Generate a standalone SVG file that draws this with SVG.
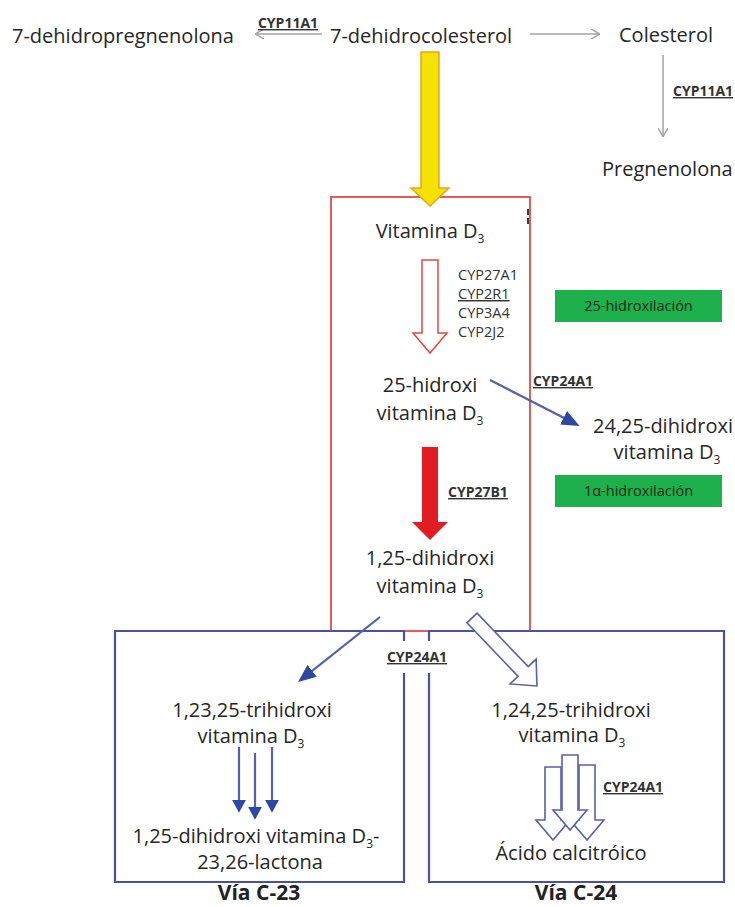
<svg xmlns="http://www.w3.org/2000/svg" width="735" height="907" viewBox="0 0 735 907">
<style>
  text { font-family: "Open Sans", "Liberation Sans", sans-serif; fill: #262626; }
  .lbl { font-size: 20px; }
  .mid { text-anchor: middle; }
  .sub { font-size: 12px; }
  .cyp { font-size: 14px; font-weight: bold; text-decoration: underline; fill: #333; }
  .cypn { font-size: 14.5px; fill: #333; }
  .grn { font-size: 14.5px; fill: #0b2a13; text-anchor: middle; }
  .via { font-size: 21px; font-weight: bold; text-anchor: middle; fill: #222; }
  .gray { stroke: #a3a3a3; stroke-width: 1.5; fill: none; }
  .blue { stroke: #5560ae; stroke-width: 2.2; fill: none; }
  .bluebox { stroke: #4a52a0; stroke-width: 2.2; fill: none; }
  .redbox { stroke: #e24a4a; stroke-width: 1.8; fill: none; }
  .hollowblue { stroke: #5a60a8; stroke-width: 1.6; fill: #fff; }
  .greenbox { fill: #1eb04d; }
</style>
<defs>
  <marker id="grayHead" viewBox="0 0 10 10" refX="10" refY="5" markerUnits="userSpaceOnUse" markerWidth="9" markerHeight="10" preserveAspectRatio="none" orient="auto">
    <path d="M0,0 L10,5 L0,10" fill="none" stroke="#a3a3a3" stroke-width="1.5"/>
  </marker>
  <marker id="blueHeadLg" viewBox="0 0 10 10" refX="4" refY="5" markerUnits="userSpaceOnUse" markerWidth="18" markerHeight="15" preserveAspectRatio="none" orient="auto">
    <path d="M0,0 L10,5 L0,10 z" fill="#2c48a4"/>
  </marker>
  <marker id="blueHeadSm" viewBox="0 0 10 10" refX="4" refY="5" markerUnits="userSpaceOnUse" markerWidth="13" markerHeight="14" preserveAspectRatio="none" orient="auto">
    <path d="M0,0 L10,5 L0,10 z" fill="#2c48a4"/>
  </marker>
</defs>

<!-- containers -->
<g id="box-red">
  <rect class="redbox" x="331" y="197" width="199" height="434"/>
  <path d="M528,209 v6 M528,218 v6" stroke="#3a3a3a" stroke-width="2"/>
</g>
<g id="box-c23">
  <path class="bluebox" d="M404,641 V631 H115 V882 H404 V673"/>
</g>
<g id="box-c24">
  <path class="bluebox" d="M429,641 V631 H724 V882 H429 V673"/>
</g>

<!-- connectors -->
<g id="connectors">
  <line class="gray" x1="322" y1="34" x2="255" y2="34" marker-end="url(#grayHead)"/>
  <line class="gray" x1="530" y1="34" x2="600" y2="34" marker-end="url(#grayHead)"/>
  <line class="gray" x1="663" y1="55" x2="663" y2="137" marker-end="url(#grayHead)"/>
  <!-- yellow arrow -->
  <polygon points="421,52 439,52 439,188 449,188 430,206 411,188 421,188" fill="#f4e200" stroke="#eba21c" stroke-width="1.5"/>
  <!-- red hollow arrow -->
  <polygon points="422,260 438,260 438,333 447,333 430,353 413,333 422,333" fill="#fff" stroke="#e84444" stroke-width="1.5"/>
  <!-- red solid arrow -->
  <polygon points="422,447 438,447 438,522 448,522 430,540 412,522 422,522" fill="#e31b23"/>
  <!-- to 24,25-dihidroxi -->
  <line class="blue" x1="490" y1="380" x2="570" y2="421" marker-end="url(#blueHeadLg)"/>
  <!-- to 1,23,25-trihidroxi -->
  <line class="blue" x1="380" y1="617" x2="306.5" y2="675.3" marker-end="url(#blueHeadLg)"/>
  <!-- hollow fat blue arrow to 1,24,25 -->
  <polygon class="hollowblue" transform="translate(472,618) rotate(46.3)" points="0,-7 74,-7 74,-18 94,0 74,18 74,7 0,7"/>
  <!-- three small blue arrows -->
  <line class="blue" x1="239" y1="747" x2="239" y2="805" marker-end="url(#blueHeadSm)"/>
  <line class="blue" x1="272" y1="747" x2="272" y2="805" marker-end="url(#blueHeadSm)"/>
  <line class="blue" x1="255" y1="753" x2="255" y2="812" marker-end="url(#blueHeadSm)"/>
  <!-- three hollow arrows in right box -->
  <polygon class="hollowblue" points="545,767 561,767 561,820 570,820 553,840 536,820 545,820"/>
  <polygon class="hollowblue" points="579,765 595,765 595,820 604,820 587,840 570,820 579,820"/>
  <polygon class="hollowblue" points="562,755 578,755 578,810 587,810 570,830 553,810 562,810"/>
</g>

<!-- nodes -->
<g id="n-7dhpreg"><text class="lbl" x="12" y="43">7-dehidropregnenolona</text></g>
<g id="l-cyp11a1-a"><text class="cyp mid" x="288" y="28">CYP11A1</text></g>
<g id="n-7dhc"><text class="lbl" x="330" y="43">7-dehidrocolesterol</text></g>
<g id="n-col"><text class="lbl" x="619" y="42">Colesterol</text></g>
<g id="l-cyp11a1-b"><text class="cyp" x="673" y="96">CYP11A1</text></g>
<g id="n-preg"><text class="lbl" x="602" y="176">Pregnenolona</text></g>

<g id="n-vitd3"><text class="lbl mid" x="430" y="238">Vitamina D<tspan class="sub" dy="5">3</tspan></text></g>
<g id="l-cyp25">
  <text class="cypn" x="458" y="280">CYP27A1</text>
  <text class="cypn" x="458" y="299" text-decoration="underline">CYP2R1</text>
  <text class="cypn" x="458" y="318">CYP3A4</text>
  <text class="cypn" x="458" y="337">CYP2J2</text>
</g>
<g id="g-25hidrox">
  <rect class="greenbox" x="555" y="290" width="167" height="32"/>
  <text class="grn" x="638.5" y="311">25-hidroxilación</text>
</g>
<g id="n-25ohd">
  <text class="lbl mid" x="430" y="392">25-hidroxi</text>
  <text class="lbl mid" x="430" y="420">vitamina D<tspan class="sub" dy="5">3</tspan></text>
</g>
<g id="l-cyp24a1-a"><text class="cyp mid" x="563" y="386">CYP24A1</text></g>
<g id="n-2425">
  <text class="lbl mid" x="663" y="433">24,25-dihidroxi</text>
  <text class="lbl mid" x="667" y="459">vitamina D<tspan class="sub" dy="5">3</tspan></text>
</g>
<g id="g-1ahidrox">
  <rect class="greenbox" x="555" y="475" width="167" height="32"/>
  <text class="grn" x="638.5" y="496">1α-hidroxilación</text>
</g>
<g id="l-cyp27b1"><text class="cyp" x="448" y="497">CYP27B1</text></g>
<g id="n-125">
  <text class="lbl mid" x="430" y="565">1,25-dihidroxi</text>
  <text class="lbl mid" x="430" y="593">vitamina D<tspan class="sub" dy="5">3</tspan></text>
</g>
<g id="l-cyp24a1-b"><text class="cyp mid" x="417" y="662">CYP24A1</text></g>

<g id="n-12325">
  <text class="lbl mid" x="252" y="717">1,23,25-trihidroxi</text>
  <text class="lbl mid" x="251" y="743">vitamina D<tspan class="sub" dy="5">3</tspan></text>
</g>
<g id="n-lactona">
  <text class="lbl mid" x="256" y="843">1,25-dihidroxi vitamina D<tspan class="sub" dy="5">3</tspan><tspan dy="-5">-</tspan></text>
  <text class="lbl mid" x="260" y="869">23,26-lactona</text>
</g>
<g id="l-via23"><text class="via" x="259" y="900">Vía C-23</text></g>

<g id="n-12425">
  <text class="lbl mid" x="571" y="717">1,24,25-trihidroxi</text>
  <text class="lbl mid" x="572" y="742">vitamina D<tspan class="sub" dy="5">3</tspan></text>
</g>
<g id="l-cyp24a1-c"><text class="cyp" x="603" y="792">CYP24A1</text></g>
<g id="n-calcitroico"><text class="lbl mid" x="571" y="860">Ácido calcitróico</text></g>
<g id="l-via24"><text class="via" x="576" y="900">Vía C-24</text></g>
</svg>
